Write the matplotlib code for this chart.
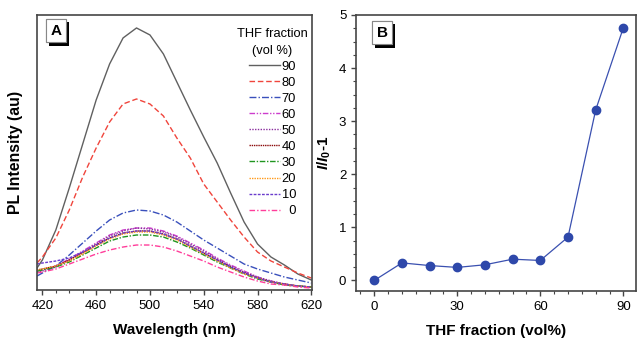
import numpy as np
import matplotlib
matplotlib.use("Agg")
import matplotlib.pyplot as plt
import matplotlib.patheffects as pe
from matplotlib.ticker import MultipleLocator

plt.rcParams['font.family'] = ['Liberation Sans', 'DejaVu Sans']
plt.rcParams['mathtext.fontset'] = 'custom'
plt.rcParams['mathtext.rm'] = 'Liberation Sans:bold'
plt.rcParams['mathtext.it'] = 'Liberation Sans:italic:bold'

# panel A: PL spectra (arbitrary units)
wavelength = [416, 420, 430, 440, 450, 460, 470, 480, 490, 500, 510,
              520, 530, 540, 550, 560, 570, 580, 590, 600, 610, 620]
pl_90 = [22, 30, 60, 102, 146, 190, 226, 252, 262, 255, 236,
         208, 180, 153, 127, 97, 68, 46, 33, 25, 16, 10]
pl_80 = [27, 33, 52, 80, 113, 142, 168, 186, 191, 186, 174,
         152, 132, 106, 88, 70, 53, 38, 29, 23, 17, 12]
pl_70 = [14, 17, 24, 35, 47, 59, 70, 77, 80, 79, 75,
         68, 59, 50, 42, 34, 26, 21, 17, 13, 10, 7]
pl_60 = [19, 20, 24, 31, 39, 47, 55, 60, 62, 62, 59,
         54, 47, 40, 32, 25, 19, 13, 9, 6, 4, 3]
pl_50 = [18, 19, 23, 30, 38, 46, 54, 59, 62, 61, 58,
         53, 46, 39, 31, 24, 18, 13, 9, 6, 4, 3]
pl_40 = [20, 21, 24, 30, 37, 45, 52, 57, 59, 59, 56,
         51, 44, 37, 30, 23, 17, 12, 8, 6, 4, 3]
pl_30 = [19, 20, 23, 28, 35, 42, 49, 53, 55, 55, 53,
         48, 42, 35, 28, 22, 16, 11, 8, 5, 4, 3]
pl_20 = [20, 21, 24, 29, 36, 44, 51, 56, 58, 58, 55,
         50, 43, 36, 29, 22, 16, 12, 8, 6, 4, 3]
pl_10 = [26, 27, 29, 32, 38, 45, 52, 57, 59, 59, 56,
         51, 44, 37, 30, 23, 17, 12, 8, 6, 4, 3]
pl_0 = [17, 18, 21, 26, 31, 36, 40, 43, 45, 45, 43,
        39, 34, 29, 23, 18, 13, 9, 6, 5, 3, 2]

fractions = [90, 80, 70, 60, 50, 40, 30, 20, 10, 0]
spectra = [pl_90, pl_80, pl_70, pl_60, pl_50, pl_40, pl_30, pl_20, pl_10, pl_0]
colors = ['#606060', '#f0453c', '#3a50bc', '#cc3dcc', '#8a2d9e',
          '#8b0a0a', '#1f951f', '#ff9a1a', '#6a3ccc', '#ff3d9a']
styles = ['-', (0, (4, 2)), (0, (5, 1.5, 1, 1.5)), (0, (4, 1.2, 1, 1.2, 1, 1.2)),
          (0, (1, 1)), (0, (1, 0.6)), (0, (4, 1.2, 1, 1.2)), (0, (1, 0.8)),
          (0, (2, 1)), (0, (4, 1.5, 1, 1.5))]

# panel B: I/I0 - 1 vs THF fraction
thf = [0, 10, 20, 30, 40, 50, 60, 70, 80, 90]
ratio = [0, 0.33, 0.28, 0.245, 0.295, 0.40, 0.376, 0.816, 3.21, 4.76]

fig = plt.figure(figsize=(6.38, 3.4), dpi=100)
axA = fig.add_axes([0.058, 0.147, 0.431, 0.809])
axB = fig.add_axes([0.558, 0.144, 0.439, 0.812])

spine_col = '#454545'
for ax in (axA, axB):
    for s in ax.spines.values():
        s.set_color(spine_col)
        s.set_linewidth(1.2)
    ax.tick_params(which='both', direction='out', color=spine_col, labelsize=9.5,
                   top=False, right=False)
    ax.tick_params(which='major', length=3.5, width=1)
    ax.tick_params(which='minor', length=2, width=0.8)

# --- panel A
for f, y, c, ls in zip(fractions, spectra, colors, styles):
    lab = str(f) if f >= 10 else '  ' + str(f)
    axA.plot(wavelength, y, color=c, linestyle=ls, lw=1.0, label=lab)

axA.set_xlim(416, 620.5)
axA.set_ylim(0, 275)
axA.set_yticks([])
axA.set_xticks(np.arange(420, 621, 40))
axA.xaxis.set_minor_locator(MultipleLocator(10))
axA.set_xlabel('Wavelength (nm)', fontsize=11, fontweight='bold', labelpad=8)
axA.set_ylabel('PL Intensity (au)', fontsize=11.4, fontweight='bold', labelpad=10)

leg = axA.legend(title='THF fraction\n(vol %)', loc='upper right',
                 bbox_to_anchor=(0.985, 0.952), frameon=False, fontsize=9.3,
                 title_fontsize=9.3, handlelength=2.4, handletextpad=0.15,
                 labelspacing=0.31, borderpad=0, borderaxespad=0)
leg.get_title().set_multialignment('center')
leg.get_title().set_linespacing(1.5)

# --- panel B
axB.plot(thf, ratio, color='#3a50b0', lw=0.9, marker='o', markersize=6,
         markerfacecolor='#2e48aa', markeredgecolor='#2e48aa')
axB.set_xlim(-6.6, 94.6)
axB.set_ylim(-0.2, 5.0)
axB.xaxis.set_major_locator(MultipleLocator(30))
axB.xaxis.set_minor_locator(MultipleLocator(5))
axB.yaxis.set_major_locator(MultipleLocator(1))
axB.yaxis.set_minor_locator(MultipleLocator(0.25))
axB.set_xlabel('THF fraction (vol%)', fontsize=11, fontweight='bold', labelpad=8)
axB.set_ylabel(r'$I/I_0$-1', fontsize=11, fontweight='bold', labelpad=4)

# panel letters with drop shadow
for ax, letter, pos in ((axA, 'A', (0.069, 0.942)), (axB, 'B', (0.093, 0.935))):
    t = ax.text(pos[0], pos[1], letter, transform=ax.transAxes, ha='center',
                va='center', fontsize=11, fontweight='bold',
                bbox=dict(boxstyle='square,pad=0.3', fc='white', ec='#888888', lw=0.8))
    t.get_bbox_patch().set_path_effects([
        pe.withSimplePatchShadow(offset=(2.2, -2.2), shadow_rgbFace='black', alpha=1),
        pe.Normal()])

fig.savefig('out.png', dpi=100)
